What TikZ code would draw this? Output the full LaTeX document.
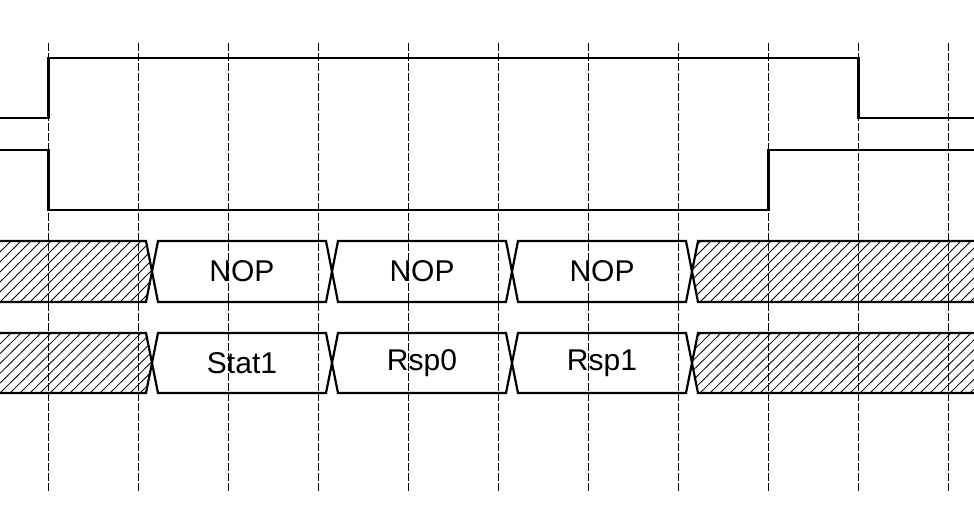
\documentclass[tikz,border=0pt]{standalone}
\usepackage{fontspec}
\setmainfont{Liberation Sans}
\usepackage{tikz}
\usetikzlibrary{positioning, calc}

\begin{document}
\begin{tikzpicture}[x=1pt, y=-1pt,
    wave/.style={line width=2.2pt, line join=miter},
    grid/.style={line width=0.8pt, dash pattern=on 8pt off 2pt},
    hatch/.style={line width=0.8pt},
    lbl/.style={font=\fontsize{30}{34}\selectfont, inner sep=0pt}]
    \useasboundingbox (0,0) rectangle (974,522);

    % Grid
    \foreach \i in {0,...,10} {
        \draw[grid] ({48.5+90*\i},43) -- ({48.5+90*\i},492);
    }

    % Signals
    \draw[wave] (-5,118) -- (48.5,118) -- (48.5,58) -- (858.5,58) -- (858.5,118) -- (980,118);
    \draw[wave] (-5,150) -- (48.5,150) -- (48.5,210) -- (768.5,210) -- (768.5,150) -- (980,150);

    % Busses
    \foreach \t/\b in {241/302, 333/393} {
        \pgfmathsetmacro{\m}{(\t+\b)/2}
        % hatched parts
        \begin{scope}
            \clip (-10,\t) -- (146,\t) -- (152,\m) -- (146,\b) -- (-10,\b) -- cycle;
            \foreach \k in {-10,...,22} {
                \draw[hatch] ({\k*10},\b) -- ({\k*10+61},\t);
            }
        \end{scope}
        \begin{scope}
            \clip (692,\m) -- (698,\t) -- (990,\t) -- (990,\b) -- (698,\b) -- cycle;
            \foreach \k in {62,...,100} {
                \draw[hatch] ({\k*10},\b) -- ({\k*10+61},\t);
            }
        \end{scope}
        \draw[wave] (-10,\t) -- (146,\t) -- (158,\b) -- (326,\b) -- (338,\t) -- (506,\t) -- (518,\b) -- (686,\b) -- (698,\t) -- (990,\t);
        \draw[wave] (-10,\b) -- (146,\b) -- (158,\t) -- (326,\t) -- (338,\b) -- (506,\b) -- (518,\t) -- (686,\t) -- (698,\b) -- (990,\b);
    }

    % Labels
    \node[lbl] (nop0) at (242,271.5) {NOP};
    \node[lbl] (nop1) at (422,271.5) {NOP};
    \node[lbl] (nop2) at (602,271.5) {NOP};
    \node[lbl] (stat1) at (242,363) {Stat1};
    \node[lbl] (rsp0) at (422,363) {Rsp0};
    \node[lbl] (rsp1) at (602,363) {Rsp1};
\end{tikzpicture}
\end{document}
